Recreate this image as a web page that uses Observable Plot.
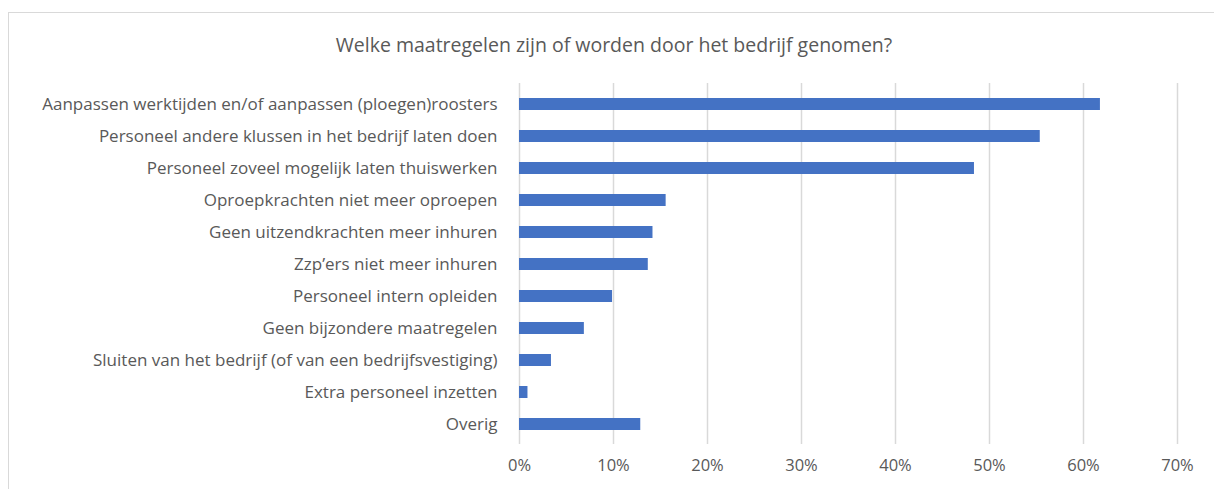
<!DOCTYPE html>
<html>
<head>
<meta charset="utf-8">
<script src="https://cdn.jsdelivr.net/npm/d3@7"></script>
<script src="https://cdn.jsdelivr.net/npm/@observablehq/plot@0.6"></script>
<style>
  html, body { margin: 0; padding: 0; background: #fff; }
  body { width: 1214px; height: 489px; overflow: hidden; position: relative; font-family: "Open Sans", sans-serif; }
  #frame { position: absolute; left: 8px; top: 12px; width: 1220px; height: 600px; border: 1.5px solid #d9d9d9; box-sizing: border-box; }
  #title { position: relative; height: 70px; box-sizing: border-box; padding-top: 32px; line-height: 26px; font-size: 19.5px; color: #595959; text-align: center; width: 1228px; }
  #chart { position: relative; }
  #chart svg { display: block; }
</style>
</head>
<body>
<div id="frame"></div>
<div id="title">Welke maatregelen zijn of worden door het bedrijf genomen?</div>
<div id="chart"></div>
<script>
const categories = [
  "Aanpassen werktijden en/of aanpassen (ploegen)roosters",
  "Personeel andere klussen in het bedrijf laten doen",
  "Personeel zoveel mogelijk laten thuiswerken",
  "Oproepkrachten niet meer oproepen",
  "Geen uitzendkrachten meer inhuren",
  "Zzp\u2019ers niet meer inhuren",
  "Personeel intern opleiden",
  "Geen bijzondere maatregelen",
  "Sluiten van het bedrijf (of van een bedrijfsvestiging)",
  "Extra personeel inzetten",
  "Overig"
];
const values = [61.8, 55.4, 48.4, 15.6, 14.2, 13.7, 9.9, 6.9, 3.4, 0.9, 12.9];
const xTicks = [0, 10, 20, 30, 40, 50, 60, 70];

const data = categories.map((c, i) => ({category: c, value: values[i]}));

const chart = Plot.plot({
  width: 1214,
  height: 419,
  marginLeft: 519,
  marginRight: 37,
  marginTop: 13,
  marginBottom: 45,
  style: {fontFamily: "'Open Sans', sans-serif", fontSize: "16px", color: "#595959", background: "transparent"},
  x: {domain: [0, 70], ticks: xTicks, tickFormat: d => d + "%", label: null},
  y: {domain: categories, paddingInner: 0.633, paddingOuter: 0.3165, label: null},
  marks: [
    Plot.gridX(xTicks, {stroke: "#d9d9d9", strokeOpacity: 1, strokeWidth: 1.5}),
    Plot.barX(data, {x: "value", y: "category", fill: "#4472c4"}),
    Plot.axisX({ticks: xTicks, tickFormat: d => d + "%", tickSize: 0, tickPadding: 15, fontSize: 16.5, label: null, fill: "#595959"}),
    Plot.axisY({tickSize: 0, tickPadding: 22, fontSize: 17, label: null, fill: "#595959"})
  ]
});
document.getElementById("chart").appendChild(chart);
</script>
</body>
</html>
